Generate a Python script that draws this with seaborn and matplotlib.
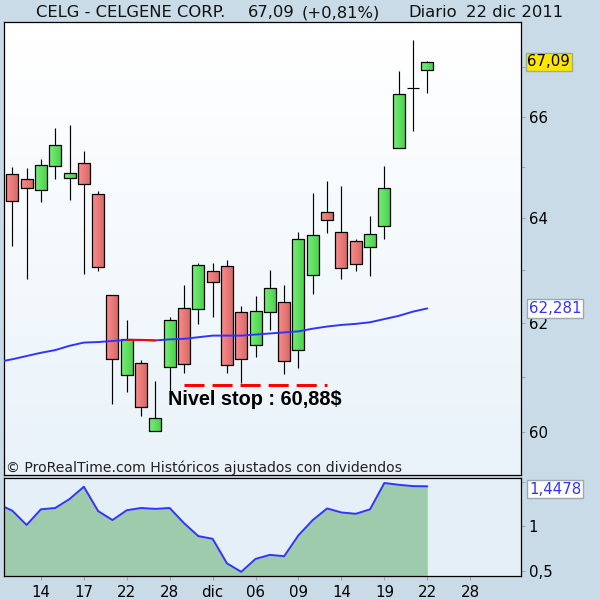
import matplotlib
matplotlib.use('Agg')
import matplotlib.pyplot as plt
from matplotlib import colors
from matplotlib.ticker import FixedLocator, NullFormatter
import numpy as np
import pandas as pd
import seaborn as sns

# candle values
highs = [65.00, 64.98, 65.16, 65.78, 65.84, 65.32, 64.53, 62.53, 62.06, 61.31,
         60.93, 62.11, 62.73, 63.14, 63.14, 63.20, 62.33, 62.52, 63.01, 62.72,
         63.73, 64.50, 64.73, 64.63, 63.60, 64.05, 65.02, 66.92, 67.55, 67.12]
lows = [63.46, 62.84, 64.31, 64.76, 64.35, 62.94, 62.99, 60.51, 60.73, 60.29,
        60.01, 60.65, 61.08, 61.99, 62.12, 61.08, 60.90, 61.38, 61.88, 61.06,
        61.17, 62.56, 63.71, 62.84, 62.98, 62.90, 63.61, 65.37, 65.72, 66.48]
tops = [64.86, 64.76, 65.04, 65.43, 64.88, 65.08, 64.47, 62.53, 61.70, 61.26,
        60.25, 62.06, 62.28, 63.10, 62.98, 63.08, 62.21, 62.23, 62.66, 62.40,
        63.60, 63.67, 64.12, 63.73, 63.56, 63.69, 64.59, 66.45, 66.57, 67.09]
bottoms = [64.33, 64.59, 64.55, 65.02, 64.78, 64.67, 63.06, 61.33, 61.03, 60.45,
           60.01, 61.18, 61.24, 62.26, 62.78, 61.22, 61.33, 61.59, 62.21, 61.29,
           61.50, 62.91, 63.96, 63.04, 63.12, 63.44, 63.85, 65.37, 66.57, 66.93]
rising = [0, 0, 1, 1, 1, 0, 0, 0, 1, 0,
          1, 1, 0, 1, 0, 0, 0, 1, 1, 0,
          1, 1, 0, 0, 0, 1, 1, 1, 1, 1]

# moving average, first value is the bar before the window
ma_values = [61.28, 61.33, 61.39, 61.45, 61.50, 61.58, 61.64, 61.65, 61.67, 61.69, 61.69,
             61.68, 61.70, 61.71, 61.74, 61.77, 61.77, 61.77, 61.79, 61.81, 61.83,
             61.85, 61.90, 61.94, 61.97, 61.99, 62.02, 62.08, 62.14, 62.22, 62.28]
# lower indicator, same bars
ind_values = [1.25, 1.175, 1.015, 1.19, 1.205, 1.305, 1.443, 1.17, 1.07, 1.18, 1.205,
              1.195, 1.205, 1.035, 0.89, 0.86, 0.585, 0.49, 0.635, 0.68, 0.665,
              0.90, 1.07, 1.20, 1.155, 1.14, 1.19, 1.485, 1.465, 1.45, 1.4478]
stop_level = 60.85

date_labels = ['14', '17', '22', '28', 'dic', '06', '09', '14', '19', '22', '28']
date_pos = [2, 5, 8, 11, 14, 17, 20, 23, 26, 29, 32]

W = H = 600
BG = '#c9dbe6'
RED_L, RED_R = '#fb8a8a', '#d96a6a'
GREEN_L, GREEN_R = '#74f074', '#4fd04f'
BLUE = '#3333ff'
TICK = '#9aa8b0'

sns.set_theme(style='white')
plt.rcParams['font.family'] = ['DejaVu Sans']

fig = plt.figure(figsize=(6, 6), dpi=100, facecolor=BG)
ax = fig.add_axes([3.5 / W, 1 - 475 / H, (521 - 3.5) / W, (475 - 22.3) / H])
ax2 = fig.add_axes([3.5 / W, 1 - 576.3 / H, (521 - 3.5) / W, (576.3 - 478.3) / H])

xlim = (-0.615, 35.55)
ylim = (59.22, 67.91)
ylim2 = (0.44, 1.5375)

ax.set_yscale('log')
ax.set_xlim(xlim)
ax.set_ylim(ylim)
ax2.set_xlim(xlim)
ax2.set_ylim(ylim2)

# background gradients
bg_cmap = colors.LinearSegmentedColormap.from_list('bg', ['#e9f2f9', '#f4f9fc', '#ffffff'])
edges = np.geomspace(ylim[0], ylim[1], 226)
ax.pcolormesh(xlim, edges, np.linspace(0, 1, 225).reshape(-1, 1), cmap=bg_cmap, zorder=0,
              linewidth=0, antialiased=False)
ax2.set_facecolor('#e4eff7')

df = pd.DataFrame({'high': highs, 'low': lows, 'top': tops, 'bottom': bottoms, 'rising': rising})
df['x'] = df.index

# wicks and bodies
ax.vlines(df['x'], df['low'], df['high'], color='black', lw=0.85, zorder=2)
red_cmap = colors.LinearSegmentedColormap.from_list('r', [RED_L, RED_R])
green_cmap = colors.LinearSegmentedColormap.from_list('g', [GREEN_L, GREEN_R])
shade = np.linspace(0, 1, 12).reshape(1, -1)
half = 0.42
for _, row in df.iterrows():
    if row['top'] == row['bottom']:
        ax.hlines(row['top'], row['x'] - half - 0.03, row['x'] + half + 0.03, color='black', lw=0.85, zorder=3)
        continue
    xs = np.linspace(row['x'] - half, row['x'] + half, 13)
    ax.pcolormesh(xs, [row['bottom'], row['top']], shade,
                  cmap=green_cmap if row['rising'] else red_cmap, zorder=3,
                  linewidth=0, antialiased=False)
    ax.plot([xs[0], xs[-1], xs[-1], xs[0], xs[0]],
            [row['bottom'], row['bottom'], row['top'], row['top'], row['bottom']],
            color='black', lw=0.9, zorder=4, solid_joinstyle='miter')

# moving average
ma_df = pd.DataFrame({'x': np.arange(-1, 30), 'ma': ma_values})
sns.lineplot(data=ma_df, x='x', y='ma', ax=ax, color=BLUE, lw=1.4, zorder=5)
falling = ma_df[(ma_df['x'] >= 8) & (ma_df['x'] <= 10)]
sns.lineplot(data=falling, x='x', y='ma', ax=ax, color='#ff0000', lw=1.4, zorder=6)

# stop level
ax.hlines(stop_level, 12, 22, color='#ff0000', lw=2.2, zorder=6,
          linestyles=(0, (20 / 3.05, 8 / 3.05)))
ax.text(10.9, 60.49, 'Nivel stop : 60,88$', family='Liberation Sans', weight='bold',
        fontsize=14.3, color='black', va='baseline', ha='left', zorder=7)

ax.text(2.5 / (521 - 3.5), 3 / (475 - 22.3), '© ProRealTime.com Históricos ajustados con dividendos',
        transform=ax.transAxes, fontsize=10.1, color='#222222', va='baseline', ha='left', zorder=7)

# lower panel
ind_df = pd.DataFrame({'x': np.arange(-1, 30), 'ind': ind_values})
ax2.fill_between(ind_df['x'], ind_df['ind'], ylim2[0], color='#9ecbab', lw=0, zorder=1)
sns.lineplot(data=ind_df, x='x', y='ind', ax=ax2, color=BLUE, lw=1.4, zorder=2)

for a in (ax, ax2):
    a.set_xlabel('')
    a.set_ylabel('')
    for s in a.spines.values():
        s.set_color('black')
        s.set_linewidth(0.9)
    a.yaxis.tick_right()

# axis ticks
ax.xaxis.set_major_locator(FixedLocator([]))
ax.yaxis.set_major_locator(FixedLocator([60, 62, 64, 66]))
ax.yaxis.set_major_formatter(plt.FuncFormatter(lambda v, p: '%d' % v))
ax.yaxis.set_minor_locator(FixedLocator([61, 63, 65, 67]))
ax.yaxis.set_minor_formatter(NullFormatter())
ax.tick_params(axis='y', which='both', right=True, left=False, length=3, width=0.8,
               color=TICK, labelsize=10.8, labelcolor='black', pad=2.4)

ax2.set_xticks(date_pos)
ax2.set_xticklabels(date_labels)
ax2.tick_params(axis='x', bottom=True, length=3, width=0.8, color=TICK,
                labelsize=10.8, labelcolor='black', pad=3)
ax2.set_yticks([0.5, 1, 1.5])
ax2.set_yticklabels(['0,5', '1', ''])
ax2.tick_params(axis='y', right=True, left=False, length=3, width=0.8, color=TICK,
                labelsize=10.8, labelcolor='black', pad=2.4)

# value boxes on the right
fig.text(527.5 / W, 1 - 62 / H, '67,09', fontsize=10.8, color='black', va='center', ha='left',
         bbox=dict(boxstyle='square,pad=0.12', fc='#ffe600', ec=TICK, lw=1))
fig.text(529 / W, 1 - 308.5 / H, '62,281', fontsize=10.8, color=BLUE, va='center', ha='left',
         bbox=dict(boxstyle='square,pad=0.12', fc='white', ec=TICK, lw=1))
fig.text(529 / W, 1 - 489 / H, '1,4478', fontsize=10.8, color=BLUE, va='center', ha='left',
         bbox=dict(boxstyle='square,pad=0.12', fc='white', ec=TICK, lw=1))

# header
for x_px, label in [(36, 'CELG - CELGENE CORP.'), (248, '67,09'), (302, '(+0,81%)'),
                    (408, 'Diario'), (466, '22 dic 2011')]:
    fig.text(x_px / W, 1 - 12.5 / H, label, fontsize=11.8, color='#111111', va='center', ha='left')

fig.savefig('out.png', dpi=100, facecolor=BG)
